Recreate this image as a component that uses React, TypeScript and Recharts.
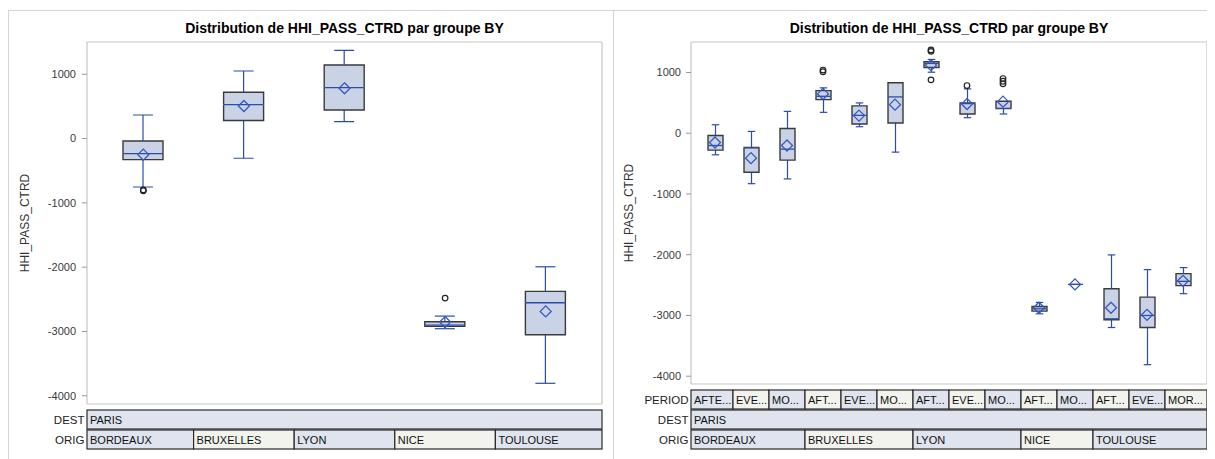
import React from 'react';
import { ComposedChart, Bar, Scatter, XAxis, YAxis, CartesianGrid } from 'recharts';

const FONT = '"Liberation Sans", Arial, Helvetica, sans-serif';
const TITLE = 'Distribution de HHI_PASS_CTRD par groupe BY';
const Y_LABEL = 'HHI_PASS_CTRD';
const Y_TICKS = [-4000, -3000, -2000, -1000, 0, 1000];
const Y_DOMAIN: [number, number] = [-4128, 1502];
const DEST = 'PARIS';

// ---------- Left panel: by ORIG ----------
const leftOrig = ['BORDEAUX', 'BRUXELLES', 'LYON', 'NICE', 'TOULOUSE'];
const leftMin = [-753, -306, 264, -2957, -3806];
const leftQ1 = [-327, 280, 445, -2921, -3050];
const leftMedian = [-233, 529, 793, -2900, -2553];
const leftQ3 = [-37, 720, 1145, -2848, -2377];
const leftMax = [367, 1051, 1373, -2761, -1994];
const leftMean = [-250, 507, 782, -2854, -2688];
const leftOutliers: number[][] = [[-798, -812], [], [], [-2481], []];

// ---------- Right panel: by ORIG x PERIOD ----------
const rightOrig = ['BORDEAUX', 'BORDEAUX', 'BORDEAUX', 'BRUXELLES', 'BRUXELLES', 'BRUXELLES', 'LYON', 'LYON', 'LYON', 'NICE', 'NICE', 'TOULOUSE', 'TOULOUSE', 'TOULOUSE'];
const rightPeriod = ['AFTERNOON', 'EVENING', 'MORNING', 'AFTERNOON', 'EVENING', 'MORNING', 'AFTERNOON', 'EVENING', 'MORNING', 'AFTERNOON', 'MORNING', 'AFTERNOON', 'EVENING', 'MORNING'];
const rightPeriodLabels = ['AFTE...', 'EVE...', 'MO...', 'AFT...', 'EVE...', 'MO...', 'AFT...', 'EVE...', 'MO...', 'AFT...', 'MO...', 'AFT...', 'EVE...', 'MOR...'];
const rightMin = [-355, -830, -752, 344, 107, -311, 1005, 256, 317, -2972, -2488, -3198, -3810, -2641];
const rightQ1 = [-278, -641, -443, 554, 152, 169, 1083, 317, 405, -2929, -2488, -3071, -3198, -2509];
const rightMedian = [-202, -240, -262, 608, 294, 598, 1149, 488, 410, -2890, -2488, -3055, -3000, -2438];
const rightQ3 = [-36, -235, 79, 702, 450, 830, 1177, 499, 526, -2851, -2488, -2559, -2698, -2311];
const rightMax = [140, 30, 360, 747, 499, 830, 1215, 730, 526, -2785, -2488, -2003, -2245, -2212];
const rightMean = [-152, -410, -202, 648, 290, 471, 1121, 480, 520, -2873, -2488, -2873, -2990, -2430];
const rightOutliers: number[][] = [[], [], [], [1040, 1012], [], [], [1372, 1348, 879], [785], [900, 856, 813], [], [], [], [], []];

// ---------- styles ----------
const BOX_FILL = '#c9d3e5';
const BOX_EDGE = '#3a3a3a';
const WHISKER = '#2b4cae';
const MEAN_C = '#3457c2';
const CELL_BLUE = '#dfe4ef';
const CELL_WHITE = '#f3f3ee';
const CELL_EDGE = '#2a2a2a';
const FRAME = '#c6c6c6';

type Row = Record<string, any>;

function buildRows(keys: string[], mn: number[], q1: number[], md: number[], q3: number[], mx: number[], mean: number[], outs: number[][]): Row[] {
  return keys.map((k, i) => ({
    key: k,
    base: mn[i],
    wLow: q1[i] - mn[i],
    bLow: md[i] - q1[i],
    bHigh: q3[i] - md[i],
    wHigh: mx[i] - q3[i],
    q1: q1[i],
    q3: q3[i],
    mean: mean[i],
    out0: outs[i][0] ?? null,
    out1: outs[i][1] ?? null,
    out2: outs[i][2] ?? null,
  }));
}

function segShape(kind: string) {
  return (p: any) => {
    const { x, y, width, height, payload } = p;
    if (x == null || y == null || isNaN(y) || isNaN(height)) return <g />;
    if (kind === 'base') return <g />;
    const top = Math.min(y, y + height);
    const bot = Math.max(y, y + height);
    const cx = x + width / 2;
    const cap = width / 4;
    const flatBox = payload && payload.q3 === payload.q1;
    if (kind === 'wLow') {
      return (
        <g>
          <line x1={cx} x2={cx} y1={top} y2={bot} stroke={WHISKER} strokeWidth={1.2} />
          <line x1={cx - cap} x2={cx + cap} y1={bot} y2={bot} stroke={WHISKER} strokeWidth={1.2} />
        </g>
      );
    }
    if (kind === 'wHigh') {
      if (bot - top < 0.5) return <g />;
      return (
        <g>
          <line x1={cx} x2={cx} y1={top} y2={bot} stroke={WHISKER} strokeWidth={1.2} />
          <line x1={cx - cap} x2={cx + cap} y1={top} y2={top} stroke={WHISKER} strokeWidth={1.2} />
        </g>
      );
    }
    if (kind === 'bLow') {
      if (flatBox) return <g />;
      return (
        <g>
          <rect x={x} y={top} width={width} height={bot - top} fill={BOX_FILL} />
          <path d={`M${x},${top}V${bot}H${x + width}V${top}`} fill="none" stroke={BOX_EDGE} strokeWidth={1.4} />
        </g>
      );
    }
    // bHigh
    return (
      <g>
        {!flatBox && <rect x={x} y={top} width={width} height={bot - top} fill={BOX_FILL} />}
        {!flatBox && <path d={`M${x},${bot}V${top}H${x + width}V${bot}`} fill="none" stroke={BOX_EDGE} strokeWidth={1.4} />}
        <line x1={x} x2={x + width} y1={bot} y2={bot} stroke={WHISKER} strokeWidth={1.3} />
      </g>
    );
  };
}

const meanShape = (p: any) => {
  const { cx, cy, payload } = p;
  if (cx == null || cy == null || isNaN(cy) || !payload || payload.mean == null) return <g />;
  return <path d={`M${cx},${cy - 5.5}L${cx + 5.5},${cy}L${cx},${cy + 5.5}L${cx - 5.5},${cy}Z`} fill="none" stroke={MEAN_C} strokeWidth={1.3} />;
};

function outlierShape(key: string) {
  return (p: any) => {
    const { cx, cy, payload } = p;
    if (cx == null || cy == null || isNaN(cy) || !payload || payload[key] == null) return <g />;
    return <circle cx={cx} cy={cy} r={2.8} fill="none" stroke="#222" strokeWidth={1.2} />;
  };
}

type TableSpec = { id: string; title: string; groups: string[]; labels: string[] };

function makeRowTick(spec: TableSpec, gap: number, band: number, pad: number, n: number) {
  return (props: any) => {
    const { x, y, payload } = props;
    const i: number = payload?.index ?? props.index ?? 0;
    const half = payload && payload.offset > 0 ? payload.offset : band / 2;
    const g = spec.groups;
    if (i > 0 && g[i] === g[i - 1]) return <g />;
    let cnt = 1;
    while (i + cnt < n && g[i + cnt] === g[i]) cnt++;
    let gi = 0;
    for (let k = 1; k <= i; k++) if (g[k] !== g[k - 1]) gi++;
    const left = x - half - (i === 0 ? pad : 0);
    const right = x - half + cnt * 2 * half + (i + cnt === n ? pad : 0);
    const top = y + gap;
    return (
      <g>
        <rect x={left} y={top} width={right - left} height={19} fill={gi % 2 === 0 ? CELL_BLUE : CELL_WHITE} stroke={CELL_EDGE} strokeWidth={1.2} />
        <text x={left + 3} y={top + 14} fontSize={11} fill="#111" fontFamily={FONT}>{spec.labels[i]}</text>
        {i === 0 && (
          <text x={left - 2.5} y={top + 14} fontSize={11.5} fill="#222" textAnchor="end" fontFamily={FONT}>{spec.title}</text>
        )}
      </g>
    );
  };
}

type PanelProps = {
  data: Row[];
  width: number;
  height: number;
  margin: { top: number; right: number; bottom: number; left: number };
  yWidth: number;
  barSize: number;
  pad: number;
  tables: TableSpec[];
  tickMargin: number;
};

function BoxPanel({ data, width, height, margin, yWidth, barSize, pad, tables, tickMargin }: PanelProps) {
  const n = data.length;
  const plotW = width - margin.left - margin.right - yWidth;
  const band = (plotW - 2 * pad) / n;
  const firstId = tables[0].id;
  return (
    <ComposedChart width={width} height={height} data={data} margin={margin}>
      <CartesianGrid
        xAxisId={firstId}
        stroke={FRAME}
        strokeWidth={1.2}
        horizontalCoordinatesGenerator={(p: any) => [p.offset.top, p.offset.top + p.offset.height]}
        verticalCoordinatesGenerator={(p: any) => [p.offset.left, p.offset.left + p.offset.width]}
      />
      {tables.map((t, k) => (
        <XAxis
          key={t.id}
          xAxisId={t.id}
          dataKey="key"
          type="category"
          interval={0}
          height={k === 0 ? 26 : 20}
          padding={{ left: pad, right: pad }}
          axisLine={false}
          tickLine={false}
          tickSize={0}
          tickMargin={0}
          tick={makeRowTick(t, k === 0 ? 6 : 0, band, pad, n)}
        />
      ))}
      <YAxis
        type="number"
        domain={Y_DOMAIN}
        ticks={Y_TICKS}
        allowDataOverflow
        width={yWidth}
        axisLine={false}
        tickSize={5}
        tickMargin={tickMargin}
        tickLine={{ stroke: '#9a9a9a' }}
        tick={{ fontSize: 11, fill: '#3a3a3a', fontFamily: FONT }}
        label={{
          value: Y_LABEL,
          angle: -90,
          position: 'insideLeft',
          offset: 5,
          fontSize: 12,
          fill: '#333',
          fontFamily: FONT,
          style: { textAnchor: 'middle', fontSize: 12, fontFamily: FONT, fill: '#333' },
        }}
      />
      <Bar xAxisId={firstId} dataKey="base" stackId="box" barSize={barSize} isAnimationActive={false} shape={segShape('base')} />
      <Bar xAxisId={firstId} dataKey="wLow" stackId="box" barSize={barSize} isAnimationActive={false} shape={segShape('wLow')} />
      <Bar xAxisId={firstId} dataKey="bLow" stackId="box" barSize={barSize} isAnimationActive={false} shape={segShape('bLow')} />
      <Bar xAxisId={firstId} dataKey="bHigh" stackId="box" barSize={barSize} isAnimationActive={false} shape={segShape('bHigh')} />
      <Bar xAxisId={firstId} dataKey="wHigh" stackId="box" barSize={barSize} isAnimationActive={false} shape={segShape('wHigh')} />
      <Scatter xAxisId={firstId} dataKey="mean" isAnimationActive={false} shape={meanShape} />
      <Scatter xAxisId={firstId} dataKey="out0" isAnimationActive={false} shape={outlierShape('out0')} />
      <Scatter xAxisId={firstId} dataKey="out1" isAnimationActive={false} shape={outlierShape('out1')} />
      <Scatter xAxisId={firstId} dataKey="out2" isAnimationActive={false} shape={outlierShape('out2')} />
    </ComposedChart>
  );
}

const leftKeys = leftOrig.map((o) => `${DEST}|${o}`);
const rightKeys = rightOrig.map((o, i) => `${DEST}|${o}|${rightPeriod[i]}`);
const leftData = buildRows(leftKeys, leftMin, leftQ1, leftMedian, leftQ3, leftMax, leftMean, leftOutliers);
const rightData = buildRows(rightKeys, rightMin, rightQ1, rightMedian, rightQ3, rightMax, rightMean, rightOutliers);

// axis ids are ordered alphabetically so the rows stack top-to-bottom in this order
const leftTables: TableSpec[] = [
  { id: 'a_dest', title: 'DEST', groups: leftOrig.map(() => DEST), labels: leftOrig.map(() => DEST) },
  { id: 'b_orig', title: 'ORIG', groups: leftOrig, labels: leftOrig },
];
const rightTables: TableSpec[] = [
  { id: 'a_period', title: 'PERIOD', groups: rightKeys, labels: rightPeriodLabels },
  { id: 'b_dest', title: 'DEST', groups: rightOrig.map(() => DEST), labels: rightOrig.map(() => DEST) },
  { id: 'c_orig', title: 'ORIG', groups: rightOrig, labels: rightOrig },
];

const titleStyle: React.CSSProperties = {
  position: 'absolute',
  top: 13,
  textAlign: 'center',
  fontFamily: FONT,
  fontWeight: 'bold',
  fontSize: 14,
  lineHeight: '14px',
  color: '#000',
  whiteSpace: 'nowrap',
};

export default function App() {
  return (
    <div style={{ position: 'relative', width: 1207, height: 451, fontFamily: FONT, overflow: 'hidden' }}>
      <div style={{ position: 'absolute', left: 0, top: 2, width: 604, height: 460, borderTop: '1px solid #d4d4d4', borderLeft: '1px solid #d4d4d4', borderRight: '1px solid #d4d4d4' }} />
      <div style={{ position: 'absolute', left: 605, top: 2, width: 602, height: 460, borderTop: '1px solid #d4d4d4' }} />
      <div style={{ position: 'absolute', left: 0, top: 0 }}>
        <BoxPanel
          data={leftData}
          width={605}
          height={449}
          margin={{ top: 34, right: 11, bottom: 7, left: 12 }}
          yWidth={67}
          barSize={40}
          pad={6}
          tables={leftTables}
          tickMargin={6}
        />
      </div>
      <div style={{ position: 'absolute', left: 605, top: 0 }}>
        <BoxPanel
          data={rightData}
          width={602}
          height={449}
          margin={{ top: 34, right: 8, bottom: 7, left: 11 }}
          yWidth={67}
          barSize={15}
          pad={6}
          tables={rightTables}
          tickMargin={5}
        />
      </div>
      <div style={{ ...titleStyle, left: 79, width: 515 }}>{TITLE}</div>
      <div style={{ ...titleStyle, left: 683, width: 516 }}>{TITLE}</div>
    </div>
  );
}
